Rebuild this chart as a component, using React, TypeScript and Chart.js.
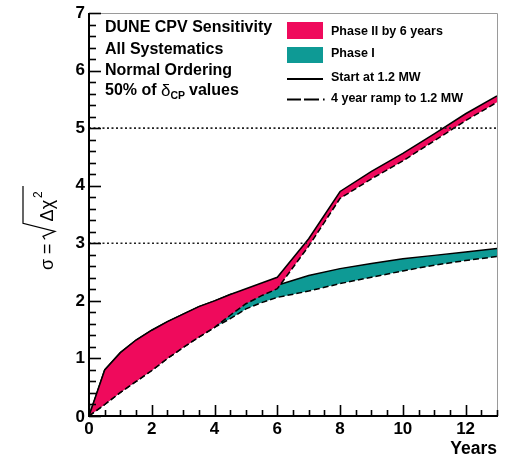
import React, { useEffect, useRef } from 'react';
import { Chart, registerables } from 'chart.js';
Chart.register(...registerables);

// ---- data ----
const years = [0, 0.5, 1, 1.5, 2, 2.5, 3, 3.5, 4, 4.5, 5, 5.5, 6, 7, 8, 9, 10, 11, 12, 13];
const phase2Start = [0, 0.8, 1.1, 1.32, 1.49, 1.64, 1.77, 1.9, 2.0, 2.11, 2.21, 2.31, 2.41, 3.08, 3.9, 4.25, 4.56, 4.9, 5.25, 5.56];
const phase2Ramp = [0, 0.2, 0.41, 0.6, 0.79, 1.0, 1.19, 1.37, 1.54, 1.75, 1.95, 2.09, 2.21, 2.95, 3.78, 4.12, 4.43, 4.78, 5.13, 5.45];
const phase1Start = [0, 0.8, 1.1, 1.32, 1.49, 1.64, 1.77, 1.9, 2.0, 2.11, 2.18, 2.22, 2.27, 2.44, 2.56, 2.65, 2.73, 2.79, 2.85, 2.91];
const phase1Ramp = [0, 0.2, 0.41, 0.6, 0.79, 1.0, 1.19, 1.37, 1.54, 1.69, 1.86, 1.97, 2.06, 2.17, 2.3, 2.41, 2.52, 2.62, 2.7, 2.77];
const refLevels = [3, 5];
const xTickLabels = [0, 2, 4, 6, 8, 10, 12];
const yTickLabels = [0, 1, 2, 3, 4, 5, 6, 7];
const textLines = ['DUNE CPV Sensitivity', 'All Systematics', 'Normal Ordering'];
const legendLabels = ['Phase II by 6 years', 'Phase I', 'Start at 1.2 MW', '4 year ramp to 1.2 MW'];

const PINK = '#ef0a5c';
const TEAL = '#0e9a95';
const FONT = '"Liberation Sans", Arial, sans-serif';

const pts = (ys: number[]) => years.map((x, i) => ({ x, y: ys[i] }));

const decorPlugin = {
  id: 'decor',
  afterDraw(chart: any) {
    const ctx = chart.ctx as CanvasRenderingContext2D;
    const xs = chart.scales.x;
    const ys = chart.scales.y;
    const a = chart.chartArea;
    ctx.save();
    // frame
    ctx.strokeStyle = '#9a9a9a';
    ctx.lineWidth = 1;
    ctx.beginPath();
    ctx.moveTo(a.left, a.top + 0.5);
    ctx.lineTo(a.right + 0.5, a.top + 0.5);
    ctx.lineTo(a.right + 0.5, a.bottom);
    ctx.stroke();
    ctx.strokeStyle = '#000';
    ctx.lineWidth = 2;
    ctx.beginPath();
    ctx.moveTo(a.left, a.top);
    ctx.lineTo(a.left, a.bottom);
    ctx.lineTo(a.right + 1, a.bottom);
    ctx.stroke();
    // y ticks (inward)
    ctx.lineWidth = 1.6;
    for (let i = 0; i <= 35; i++) {
      const v = i / 5;
      const py = Math.round(ys.getPixelForValue(v)) + 0.5;
      const len = i % 5 === 0 ? 12 : 7;
      ctx.beginPath();
      ctx.moveTo(a.left, py);
      ctx.lineTo(a.left + len, py);
      ctx.stroke();
    }
    // x ticks (inward)
    for (let i = 0; i <= 26; i++) {
      const v = i / 2;
      const px = Math.round(xs.getPixelForValue(v)) + 0.5;
      const len = i % 4 === 0 ? 11 : 6;
      ctx.beginPath();
      ctx.moveTo(px, a.bottom);
      ctx.lineTo(px, a.bottom - len);
      ctx.stroke();
    }
    // tick labels
    ctx.fillStyle = '#000';
    ctx.font = `bold 17px ${FONT}`;
    ctx.textAlign = 'right';
    ctx.textBaseline = 'middle';
    yTickLabels.forEach((v) => {
      ctx.fillText(String(v), a.left - 4, ys.getPixelForValue(v) + (v === 0 ? 1 : 0));
    });
    ctx.textAlign = 'center';
    ctx.textBaseline = 'top';
    xTickLabels.forEach((v) => {
      ctx.fillText(String(v), xs.getPixelForValue(v), a.bottom + 5);
    });
    // x title
    ctx.font = `bold 17.5px ${FONT}`;
    ctx.textAlign = 'right';
    ctx.textBaseline = 'alphabetic';
    ctx.fillText('Years', a.right, 454);

    // y title: sigma = sqrt(Δχ²)
    ctx.save();
    ctx.translate(53, 270);
    ctx.rotate(-Math.PI / 2);
    ctx.font = `18px ${FONT}`;
    ctx.textAlign = 'left';
    ctx.textBaseline = 'alphabetic';
    ctx.fillText('σ =', 0, 0);
    const w1 = ctx.measureText('σ =').width;
    const u = w1 + 4;
    const w2 = ctx.measureText('Δχ').width;
    ctx.lineWidth = 1.2;
    ctx.strokeStyle = '#000';
    ctx.beginPath();
    ctx.moveTo(u, -8);
    ctx.lineTo(u + 3, -10);
    ctx.lineTo(u + 8, 2);
    ctx.lineTo(u + 16, -30);
    ctx.lineTo(u + 16 + w2 + 16, -30);
    ctx.stroke();
    ctx.fillText('Δχ', u + 18, 0);
    ctx.font = `12px ${FONT}`;
    ctx.fillText('2', u + 18 + w2 + 2, -11);
    ctx.restore();

    // left text block
    ctx.font = `bold 16px ${FONT}`;
    ctx.textAlign = 'left';
    ctx.textBaseline = 'middle';
    const lineY = [28, 50, 71];
    textLines.forEach((t, i) => ctx.fillText(t, 105, lineY[i]));
    const t4a = '50% of ';
    ctx.fillText(t4a, 105, 91);
    let x4 = 105 + ctx.measureText(t4a).width;
    ctx.font = `17px ${FONT}`;
    ctx.fillText('δ', x4, 91);
    x4 += ctx.measureText('δ').width;
    ctx.font = `bold 10.5px ${FONT}`;
    ctx.fillText('CP', x4, 96);
    x4 += ctx.measureText('CP').width + 4;
    ctx.font = `bold 16px ${FONT}`;
    ctx.fillText('values', x4, 91);

    // right legend
    ctx.font = `bold 12.5px ${FONT}`;
    ctx.fillStyle = PINK;
    ctx.fillRect(287, 22, 36, 17);
    ctx.fillStyle = TEAL;
    ctx.fillRect(287, 47, 36, 16);
    ctx.strokeStyle = '#000';
    ctx.lineWidth = 1.8;
    ctx.beginPath();
    ctx.moveTo(287, 79);
    ctx.lineTo(323, 79);
    ctx.stroke();
    ctx.setLineDash([14, 3, 15, 4, 1.6, 20]);
    ctx.beginPath();
    ctx.moveTo(287, 99.5);
    ctx.lineTo(329, 99.5);
    ctx.stroke();
    ctx.setLineDash([]);
    ctx.fillStyle = '#000';
    const legY = [32, 54, 78, 99];
    legendLabels.forEach((t, i) => ctx.fillText(t, 331, legY[i]));
    ctx.restore();
  },
};

export default function App() {
  const ref = useRef<HTMLCanvasElement | null>(null);
  useEffect(() => {
    if (!ref.current) return;
    const lineBase = { pointRadius: 0, borderWidth: 1.5, tension: 0, borderColor: '#000' };
    const chart = new Chart(ref.current, {
      type: 'line',
      data: {
        datasets: [
          ...refLevels.map((l) => ({
            data: [{ x: 0, y: l }, { x: 13, y: l }],
            borderColor: '#222',
            borderWidth: 1.6,
            borderDash: [2, 2.5],
            pointRadius: 0,
            fill: false,
          })),
          { ...lineBase, data: pts(phase2Ramp), borderDash: [6, 3], fill: false },
          { ...lineBase, data: pts(phase2Start), fill: '-1', backgroundColor: PINK },
          { ...lineBase, data: pts(phase1Ramp), borderDash: [6, 3], fill: false },
          { ...lineBase, data: pts(phase1Start), fill: '-1', backgroundColor: TEAL },
        ] as any,
      },
      options: {
        responsive: false,
        animation: false,
        events: [],
        layout: { padding: { left: 89, right: 11, top: 13, bottom: 40 } },
        plugins: { legend: { display: false }, tooltip: { enabled: false }, title: { display: false } },
        scales: {
          x: { type: 'linear', min: 0, max: 13, display: false },
          y: { type: 'linear', min: 0, max: 7, display: false },
        },
      },
      plugins: [decorPlugin],
    });
    return () => chart.destroy();
  }, []);
  return (
    <div style={{ position: 'fixed', left: 0, top: 0, width: 508, height: 456, background: '#fff' }}>
      <canvas ref={ref} width={508} height={456} style={{ width: 508, height: 456, display: 'block' }} />
    </div>
  );
}
